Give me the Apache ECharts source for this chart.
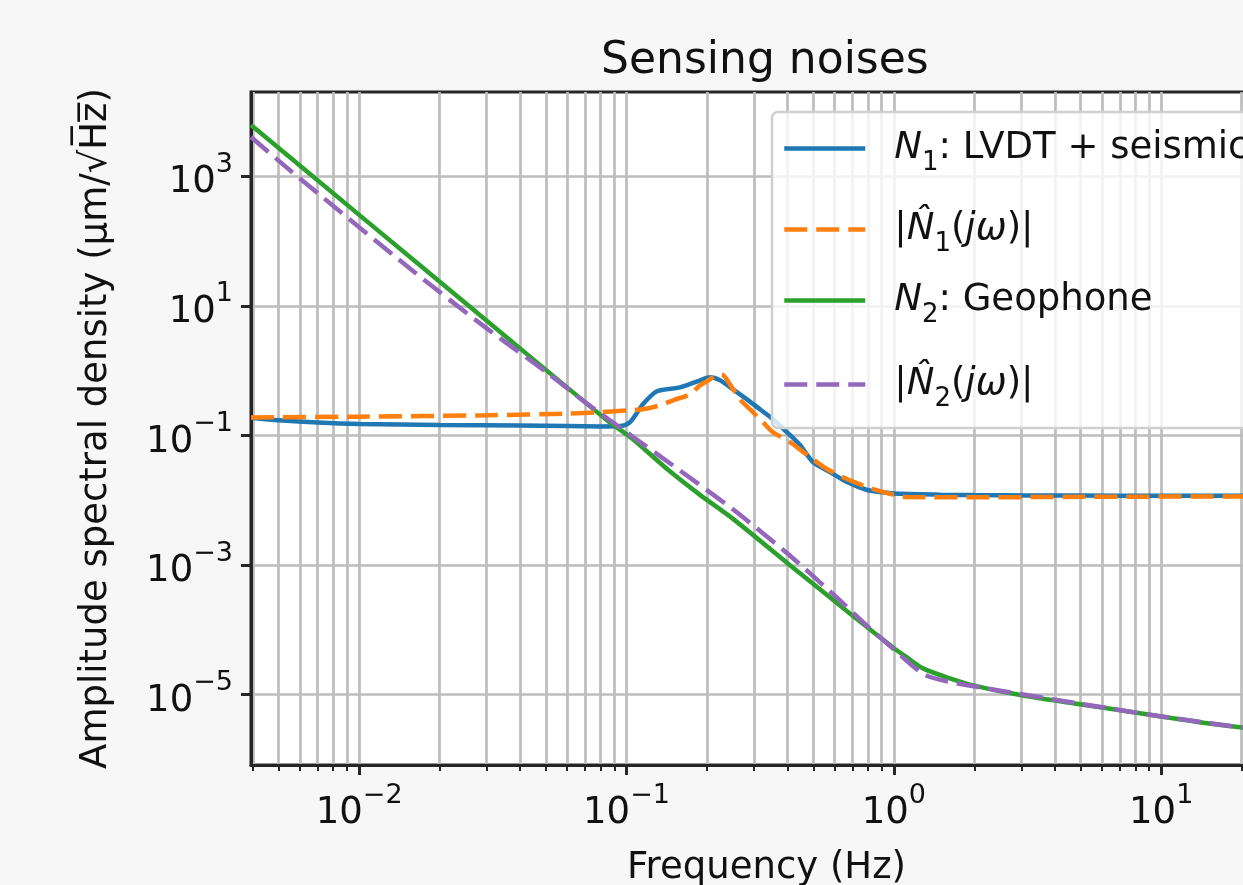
<!DOCTYPE html>
<html><head><meta charset="utf-8">
<script src="https://cdn.jsdelivr.net/npm/echarts@6/dist/echarts.min.js"></script>
<style>html,body{margin:0;padding:0;background:#f7f7f7}#c{width:1243px;height:885px}</style>
</head><body><div id="c"></div>
<script>
// ---- data ----
const n1Freq = [0.00394, 0.005, 0.007, 0.01, 0.02, 0.04, 0.06, 0.08, 0.095, 0.103, 0.11, 0.1151, 0.1299, 0.1585, 0.1883, 0.2052, 0.2237, 0.2502, 0.2822, 0.3157, 0.3531, 0.3984, 0.4456, 0.4984, 0.5768, 0.6679, 0.7939, 0.8875, 1.0, 1.5, 2, 5, 10, 28.3];
const n1Amp  = [0.188, 0.172, 0.158, 0.150, 0.145, 0.142, 0.140, 0.138, 0.140, 0.160, 0.230, 0.303, 0.481, 0.553, 0.710, 0.789, 0.710, 0.515, 0.361, 0.254, 0.178, 0.112, 0.071, 0.0388, 0.0272, 0.0191, 0.0144, 0.0134, 0.0127, 0.0122, 0.0120, 0.0118, 0.0117, 0.0117];

const n1HatFreq = [0.00394, 0.01, 0.03, 0.06, 0.0795, 0.103, 0.1151, 0.1334, 0.1492, 0.1727, 0.1883, 0.2052, 0.2181, 0.2295, 0.2438, 0.2657, 0.2895, 0.3239, 0.3531, 0.4088, 0.4857, 0.5623, 0.6679, 0.8358, 1.12, 2, 5, 28.3];
const n1HatAmp  = [0.190, 0.195, 0.205, 0.218, 0.228, 0.245, 0.254, 0.292, 0.349, 0.432, 0.594, 0.734, 0.877, 0.86, 0.615, 0.361, 0.254, 0.160, 0.112, 0.0789, 0.0463, 0.0303, 0.0213, 0.0149, 0.0112, 0.0111, 0.0113, 0.0115];

const n2Freq = [0.00394, 0.01, 0.03, 0.0845, 0.1057, 0.1419, 0.1883, 0.2502, 0.4, 0.6287, 0.7033, 0.835, 0.992, 1.119, 1.285, 1.621, 1.977, 2.649, 3.521, 4.677, 6.27, 8.33, 11.07, 14.84, 19.72, 28.3];
const n2Amp  = [6200, 254, 5.9, 0.172, 0.0877, 0.0303, 0.0121, 0.00516, 0.00107, 2.37e-4, 1.64e-4, 9.37e-5, 5.35e-5, 3.75e-5, 2.54e-5, 1.78e-5, 1.39e-5, 1.08e-5, 8.77e-6, 7.35e-6, 6.15e-6, 5.15e-6, 4.32e-6, 3.61e-6, 3.14e-6, 2.75e-6];

const n2HatFreq = [0.00394, 0.00551, 0.0159, 0.03, 0.05, 0.07, 0.1, 0.15, 0.25, 0.4, 0.6, 0.8, 1.0, 1.3, 1.7, 2.5, 5, 10, 20, 28.3];
const n2HatAmp  = [4050, 1240, 34.5, 4.5, 0.96, 0.327, 0.112, 0.0339, 0.00724, 0.00151, 3.39e-4, 1.12e-4, 5.0e-5, 2.04e-5, 1.51e-5, 1.15e-5, 7.2e-6, 4.6e-6, 3.13e-6, 2.75e-6];

const xMajorTicks = [0.01, 0.1, 1, 10];
const xMinorTicks = [0.004, 0.005, 0.006, 0.007, 0.008, 0.009, 0.02, 0.03, 0.04, 0.05, 0.06, 0.07, 0.08, 0.09,
                     0.2, 0.3, 0.4, 0.5, 0.6, 0.7, 0.8, 0.9, 2, 3, 4, 5, 6, 7, 8, 9, 20];
const yMajorTicks = [1e-5, 1e-3, 1e-1, 1e1, 1e3];
const xRange = [0.00394, 28.3];
const yRange = [8.2e-7, 2.0e4];

const titleText = 'Sensing noises';
const xName = 'Frequency (Hz)';
const yName = 'Amplitude spectral density (\u03bcm/\u221aH\u0305z\u0305)';
const seriesNames = ['N1', 'N1hat', 'N2', 'N2hat'];
const legendLabels = {
  N1: '{i|N}{sub|1}{t|: LVDT + seismic}',
  N1hat: '{t||}{i|N\u0302}{sub|1}{t|(}{i|j\u03c9}{t|)|}',
  N2: '{i|N}{sub|2}{t|: Geophone}',
  N2hat: '{t||}{i|N\u0302}{sub|2}{t|(}{i|j\u03c9}{t|)|}'
};

// ---- styling ----
const FONT = 'DejaVu Sans';
const TXT = '#111111';
const SPINE = '#262626';
const GRIDC = '#bdbdbd';
const colors = ['#1f77b4', '#ff7f0e', '#2ca02c', '#9467bd'];

function pairs(f, a) { return f.map((v, i) => [v, a[i]]); }
function pow10Label(v) {
  const e = Math.round(Math.log10(v));
  const s = e < 0 ? '\u2212' + (-e) : String(e);
  return '{b|10}{s|' + s + '}';
}
const tickRich = {
  b: { fontSize: 37, fontFamily: FONT, color: TXT, lineHeight: 50, verticalAlign: 'bottom' },
  s: { fontSize: 27, fontFamily: FONT, color: TXT, lineHeight: 27, verticalAlign: 'top' }
};
const legRich = {
  t: { fontSize: 37, fontFamily: FONT, color: TXT, lineHeight: 37, verticalAlign: 'top' },
  i: { fontSize: 37, fontFamily: FONT, color: TXT, fontStyle: 'italic', lineHeight: 37, verticalAlign: 'top' },
  sub: { fontSize: 26, fontFamily: FONT, color: TXT, lineHeight: 26, padding: [20, 0, 0, 0], verticalAlign: 'top' }
};
const legendCenters = [147, 228, 299, 383];

const chart = echarts.init(document.getElementById('c'), null, { renderer: 'canvas' });
const lineSeries = [
  { name: 'N1', data: pairs(n1Freq, n1Amp), type: 'solid' },
  { name: 'N1hat', data: pairs(n1HatFreq, n1HatAmp), type: [23, 9] },
  { name: 'N2', data: pairs(n2Freq, n2Amp), type: 'solid' },
  { name: 'N2hat', data: pairs(n2HatFreq, n2HatAmp), type: [23, 9] }
].map((s, i) => ({
  name: s.name, type: 'line', xAxisIndex: 0, yAxisIndex: 0, data: s.data,
  showSymbol: false, symbol: 'none', smooth: 0.25, z: 2 + (i === 1 || i === 3 ? 0.5 : 0),
  lineStyle: { color: colors[i], width: 4.5, type: s.type },
  itemStyle: { color: colors[i] }, emphasis: { disabled: true }, animation: false
}));

chart.setOption({
  backgroundColor: '#f7f7f7',
  animation: false,
  color: colors,
  title: { text: titleText, left: 601, top: 40, padding: 0,
    textStyle: { fontSize: 44, fontWeight: 'normal', color: TXT, fontFamily: FONT } },
  grid: { left: 251, top: 92, width: 1031, height: 673, show: true, backgroundColor: '#ffffff',
    borderColor: SPINE, borderWidth: 3, containLabel: false, outerBoundsMode: 'none' },
  xAxis: [
    { type: 'log', logBase: 10, min: xRange[0], max: xRange[1], position: 'bottom',
      name: xName, nameLocation: 'middle', nameGap: 85,
      nameTextStyle: { fontSize: 37, color: TXT, fontFamily: FONT },
      axisLine: { show: true, lineStyle: { color: SPINE, width: 3 } },
      axisTick: { show: true, length: 10, lineStyle: { color: SPINE, width: 3 }, customValues: xMajorTicks },
      axisLabel: { show: true, margin: 17, customValues: xMajorTicks, formatter: pow10Label, rich: tickRich },
      splitLine: { show: true, lineStyle: { color: GRIDC, width: 2.7 } },
      minorTick: { show: false }, minorSplitLine: { show: false } },
    { type: 'log', logBase: 10, min: xRange[0], max: xRange[1], position: 'bottom',
      axisLine: { show: false },
      axisTick: { show: true, length: 6, lineStyle: { color: SPINE, width: 2 }, customValues: xMinorTicks },
      axisLabel: { show: false },
      splitLine: { show: true, lineStyle: { color: GRIDC, width: 2.7 } } }
  ],
  yAxis: [
    { type: 'log', logBase: 10, min: yRange[0], max: yRange[1],
      name: yName, nameLocation: 'middle', nameGap: 136, nameRotate: 90,
      nameTextStyle: { fontSize: 37, color: TXT, fontFamily: FONT },
      axisLine: { show: true, lineStyle: { color: SPINE, width: 3 } },
      axisTick: { show: true, length: 10, lineStyle: { color: SPINE, width: 3 }, customValues: yMajorTicks },
      axisLabel: { show: true, margin: 18, customValues: yMajorTicks, formatter: pow10Label, rich: tickRich },
      splitLine: { show: true, lineStyle: { color: GRIDC, width: 2.7 } },
      minorTick: { show: false } }
  ],
  legend: seriesNames.map((n, i) => ({
    data: [n], left: 782, top: legendCenters[i] - 17, padding: 0, orient: 'horizontal',
    itemWidth: 81, itemHeight: 14, selectedMode: false, z: 5,
    itemStyle: { opacity: 0 },
    lineStyle: { width: 4.5 },
    formatter: nm => legendLabels[nm],
    textStyle: { fontSize: 37, fontFamily: FONT, color: TXT, padding: [0, 0, 0, 24], rich: legRich }
  })),
  graphic: { elements: [{ type: 'rect', z: 3, silent: true,
    shape: { x: 772, y: 112, width: 600, height: 316, r: 6 },
    style: { fill: 'rgba(255,255,255,0.8)', stroke: '#d0d0d0', lineWidth: 2.5 } }] },
  series: lineSeries
});
</script></body></html>
